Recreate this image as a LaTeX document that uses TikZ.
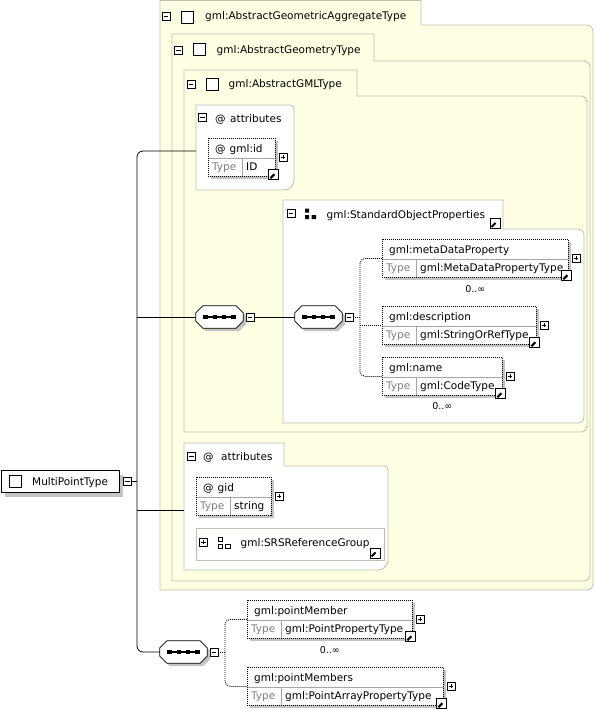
\documentclass[tikz,border=0pt]{standalone}
\usepackage{fontspec}
\setmainfont{DejaVu Sans}
\usetikzlibrary{shadows}
\definecolor{cream}{RGB}{255,255,228}
\definecolor{frame}{RGB}{190,190,178}
\definecolor{shade}{RGB}{196,196,196}
\definecolor{typegray}{RGB}{128,128,128}

\begin{document}
\begin{tikzpicture}[x=1pt,y=-1pt,
    every node/.style={font=\fontsize{10.5}{12}\selectfont},
    txt/.style={anchor=base west,inner sep=0},
    typetxt/.style={txt,text=typegray},
    card/.style={anchor=base,inner sep=0,font=\fontsize{9.5}{11}\selectfont},
    castshadow/.style={drop shadow={shadow xshift=#1,shadow yshift=-#1,opacity=1,fill=shade}},
    typebox/.style={draw=frame,fill=cream,line width=0.8},
    groupbox/.style={draw=frame,fill=white,line width=0.8},
    rowline/.style={draw=gray!70,line width=0.6},
    wire/.style={line width=0.8},
    dotwire/.style={wire,dash pattern=on 1pt off 1pt},
    rootbox/.style={draw,fill=white,line width=1.1,inner sep=0,castshadow=4pt},
    elem/.style={draw,fill=white,dash pattern=on 1pt off 1pt,line width=0.8,
      minimum height=38,inner sep=0,anchor=north west,castshadow=3pt},
    tick/.style={draw,fill=white,minimum size=12,inner sep=0,line width=1},
    minusbox/.style={draw,fill=white,minimum size=8,inner sep=0,line width=0.6,
      path picture={\draw[line width=0.6]
        ([xshift=1.8pt]path picture bounding box.west) -- ([xshift=-1.8pt]path picture bounding box.east);}},
    plusbox/.style={minusbox,
      path picture={\draw[line width=0.6]
        ([xshift=1.8pt]path picture bounding box.west) -- ([xshift=-1.8pt]path picture bounding box.east)
        ([yshift=-1.8pt]path picture bounding box.north) -- ([yshift=1.8pt]path picture bounding box.south);}},
    jumpicon/.style={draw,fill=white,minimum size=10,inner sep=0,line width=0.8,
      path picture={
        \draw[line width=2] ([shift={(1.6pt,1.6pt)}]path picture bounding box.south west)
          -- ([shift={(-4pt,-4pt)}]path picture bounding box.north east);
        \fill ([shift={(-1pt,-1pt)}]path picture bounding box.north east)
          -- ++(-6.5pt,0) -- ++(6.5pt,-6.5pt) -- cycle;}},
    seqspot/.style={minimum width=47,minimum height=22,inner sep=0},
    seqline/.style={draw,fill=white,line width=0.8,castshadow=3pt},
  ]
  \useasboundingbox (0,0) rectangle (595,710);

  % type containers
  \draw[typebox] (160,590) -- (160,0.5) -- (421,0.5) -- (421,25) [rounded corners=6]
    -- (593,25) -- (593,590) [sharp corners] -- cycle;
  \draw[typebox] (172,581) -- (172,34) -- (374,34) -- (374,61) [rounded corners=6]
    -- (590,61) -- (590,581) [sharp corners] -- cycle;
  \draw[typebox] (184,432) -- (184,70) -- (357,70) -- (357,96) [rounded corners=6]
    -- (587,96) -- (587,432) [sharp corners] -- cycle;

  % groups
  \draw[groupbox] (196,190) -- (196,105) [rounded corners=4] -- (294,105) [rounded corners=10]
    -- (294,190) [sharp corners] -- cycle;
  \draw[groupbox] (283,423) -- (283,200) -- (503,200) -- (503,229) [rounded corners=6]
    -- (584,229) -- (584,423) [sharp corners] -- cycle;
  \draw[groupbox] (184,570) -- (184,443) -- (284,443) -- (284,466) [rounded corners=4]
    -- (388,466) [rounded corners=10] -- (388,570) [sharp corners] -- cycle;
  \draw[groupbox] (196,528) rectangle (384,560);

  % tab headings
  \node[minusbox] (aga-m) at (166,16) {};
  \node[tick] at (187.5,17) {};
  \node[txt] (aga) at (205,19) {gml:AbstractGeometricAggregateType};
  \node[minusbox] (agt-m) at (178.5,50) {};
  \node[tick] at (199,49) {};
  \node[txt] (agt) at (216.5,53.5) {gml:AbstractGeometryType};
  \node[minusbox] (agml-m) at (191,84.5) {};
  \node[tick] at (212,84) {};
  \node[txt] (agml) at (228.5,87.5) {gml:AbstractGMLType};

  \node[minusbox] (attrA-m) at (202.5,117.5) {};
  \node[txt] at (215,122) {@};
  \node[txt] at (230,122) {attributes};
  \node[minusbox] (attrB-m) at (191.5,456) {};
  \node[txt] at (203,460) {@};
  \node[txt] at (221,460) {attributes};

  \node[minusbox] (sop-m) at (291,213.5) {};
  \fill (305,208.5) rectangle +(4,4) (305,215) rectangle +(4,4) (311.5,215) rectangle +(4.5,4);
  \node[txt] (sop) at (326.5,218.5) {gml:StandardObjectProperties};
  \node[jumpicon] at (495,223.5) {};

  \node[plusbox] (srs-p) at (203.5,542) {};
  \draw[line width=0.7] (218.5,537) rectangle +(4,4) (218.5,544) rectangle +(4,4) (225,544) rectangle +(5,4);
  \node[txt] (srs) at (240.5,546.5) {gml:SRSReferenceGroup};
  \node[jumpicon] at (375,553) {};

  % root
  \node[rootbox,minimum width=118,minimum height=22,anchor=north west] (mpt) at (0.6,470) {};
  \node[tick] at (15.5,481) {};
  \node[txt] at (32,485.5) {MultiPointType};
  \node[minusbox] (mpt-m) at (127.5,481) {};

  % elements and attributes
  \foreach \n/\x/\y/\w/\head/\type in {
      gmlid/208/138/67/{@\hspace{4pt}gml:id}/ID,
      meta/382/239/186/gml:metaDataProperty/gml:MetaDataPropertyType,
      desc/382/306/154/gml:description/gml:StringOrRefType,
      name/382/357/120/gml:name/gml:CodeType,
      gid/196/477/75/{@\hspace{4pt}gid}/string,
      pmember/247/600/165/gml:pointMember/gml:PointPropertyType,
      pmembers/247/667/196/gml:pointMembers/gml:PointArrayPropertyType}{
    \node[elem,minimum width=\w] (\n) at (\x,\y) {};
    \draw[rowline] (\x+0.5,\y+20) -- (\x+\w-0.5,\y+20) (\x+34,\y+20) -- (\x+34,\y+37.5);
    \node[txt] at (\x+7,\y+14.5) {\head};
    \node[typetxt] at (\x+4,\y+32.5) {Type};
    \node[txt] at (\x+38,\y+32.5) {\type};
    \node[plusbox] (\n-p) at (\x+\w+8,\y+19) {};
  }
  \foreach \n in {gmlid,meta,desc,name,pmember,pmembers}
    \node[jumpicon] at ([shift={(-2,-2)}]\n.south east) {};

  \node[card] at ([yshift=-15pt]meta.south) {0..∞};
  \node[card] at ([yshift=-14pt]name.south) {0..∞};
  \node[card] at ([yshift=-15pt]pmember.south) {0..∞};

  % sequences
  \node[seqspot] (seqA) at (219.5,317) {};
  \node[minusbox] (seqA-m) at (250,317) {};
  \node[seqspot] (seqB) at (318.5,317) {};
  \node[minusbox] (seqB-m) at (349,317) {};
  \node[seqspot] (seqC) at (183.5,652) {};
  \node[minusbox] (seqC-m) at (214,652) {};
  \foreach \s in {seqA,seqB,seqC}{
    \draw[seqline] ([xshift=7pt]\s.north west) -- ([xshift=-7pt]\s.north east)
      -- ([yshift=-7pt]\s.north east) -- ([yshift=7pt]\s.south east)
      -- ([xshift=-7pt]\s.south east) -- ([xshift=7pt]\s.south west)
      -- ([yshift=7pt]\s.south west) -- ([yshift=-7pt]\s.north west) -- cycle;
    \draw[line width=1.1] ([xshift=-14pt]\s.center) -- ([xshift=14pt]\s.center);
    \foreach \d in {-14,-4.67,4.67,14}
      \fill ([xshift=\d pt]\s.center) +(-2.2,-2.2) rectangle +(2.2,2.2);
  }

  % connectors
  \coordinate (attrA) at (196,151);
  \coordinate (attrB) at (184,510);
  \coordinate (trunk) at (137,481);
  \draw[wire,rounded corners=6] (attrA) -- (attrA -| trunk) -- (trunk |- seqC.west) -- (seqC.west);
  \draw[wire] (mpt-m.east) -- (trunk);
  \draw[wire] (trunk |- seqA.west) -- (seqA.west);
  \draw[wire] (trunk |- attrB) -- (attrB);
  \draw[wire] (seqA-m.east) -- (seqB.west);

  \coordinate (forkB) at (360,317);
  \draw[dotwire,rounded corners=5] (meta.west) -| (forkB) |- (name.west);
  \draw[dotwire] (seqB-m.east) -- (forkB);
  \draw[dotwire] (forkB |- desc.west) -- (desc.west);
  \coordinate (forkC) at (225,652);
  \draw[dotwire,rounded corners=5] (pmember.west) -| (forkC) |- (pmembers.west);
  \draw[dotwire] (seqC-m.east) -- (forkC);
\end{tikzpicture}
\end{document}
